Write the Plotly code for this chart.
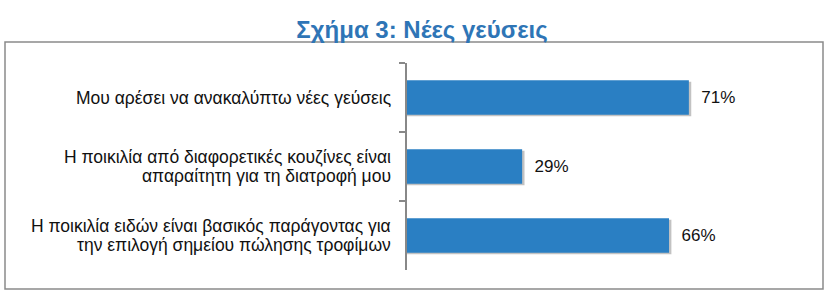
import plotly.graph_objects as go

categories = [
    "Μου αρέσει να ανακαλύπτω νέες γεύσεις",
    "Η ποικιλία από διαφορετικές κουζίνες είναι<br>απαραίτητη για τη διατροφή μου",
    "Η ποικιλία ειδών είναι βασικός παράγοντας για<br>την επιλογή σημείου πώλησης τροφίμων",
]
values = [71, 29, 66]
value_labels = ["71%", "29%", "66%"]

W, H = 831, 299
L, R, T, B = 407, 27, 63, 29
pw, ph = W - L - R, H - T - B

def px(x):
    return (x - L) / pw

def py(y):
    return (H - B - y) / ph

FONT = "Liberation Sans, Arial"

fig = go.Figure()
# shadow
fig.add_trace(go.Bar(
    y=categories, x=[v + 0.6 for v in values], orientation="h",
    marker=dict(color="rgba(80,80,80,0.35)", line=dict(width=0)),
    width=0.5, offset=-0.23, hoverinfo="skip", showlegend=False,
))
fig.add_trace(go.Bar(
    y=categories, x=values, orientation="h",
    marker=dict(color="#2A7FC3", line=dict(width=0)),
    width=0.5, offset=-0.25,
    text=["\u00a0\u00a0" + t for t in value_labels], textposition="outside",
    textfont=dict(family=FONT, size=17, color="#111"),
    cliponaxis=False, showlegend=False,
))

# category labels with tight line spacing
annotations = []
line_gap = 19.5
for cat in categories:
    lines = cat.split("<br>")
    n = len(lines)
    for i, ln in enumerate(lines):
        shift = ((n - 1) / 2 - i) * line_gap
        annotations.append(dict(
            text=ln, xref="paper", x=px(393), xanchor="right", align="right",
            yref="y", y=cat, yanchor="middle", yshift=shift, showarrow=False,
            font=dict(family=FONT, size=17.5, color="#111"),
        ))

fig.update_layout(
    width=W, height=H, margin=dict(l=L, r=R, t=T, b=B),
    paper_bgcolor="white", plot_bgcolor="white",
    barmode="overlay",
    title=dict(text="<b>Σχήμα 3: Νέες γεύσεις</b>", x=422 / W, xanchor="center",
               y=1 - 30 / H, yanchor="middle",
               font=dict(family=FONT, size=24, color="#2E75B6")),
    xaxis=dict(range=[0, 100], visible=False),
    yaxis=dict(autorange="reversed", showline=True, linecolor="#888", linewidth=1.5,
               ticks="outside", tickson="boundaries", ticklen=6, tickcolor="#888",
               tickwidth=1.5, showgrid=False, showticklabels=False),
    annotations=annotations,
    shapes=[dict(type="rect", xref="paper", yref="paper",
                 x0=px(5), x1=px(823), y0=py(289), y1=py(42),
                 line=dict(color="#8a8a8a", width=1.5), layer="below")],
)

fig.write_html("out.html")
